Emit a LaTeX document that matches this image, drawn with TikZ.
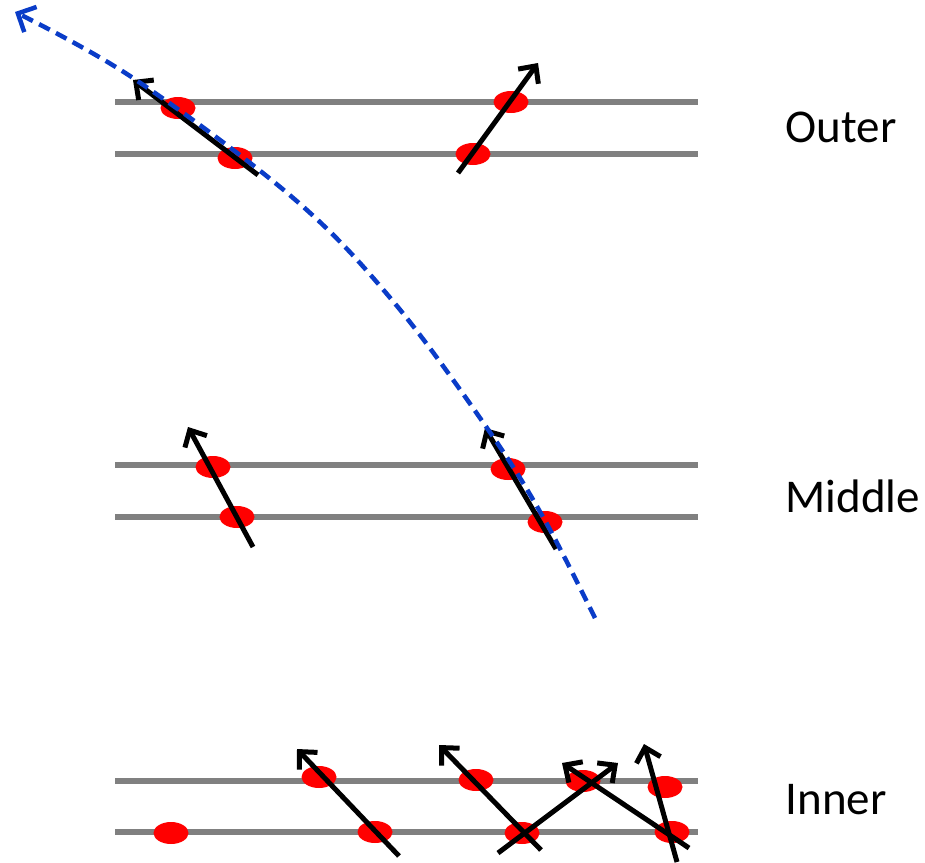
\documentclass[tikz,border=0pt]{standalone}
\usepackage{fontspec}
\setmainfont{Carlito}
\usetikzlibrary{shapes.geometric,arrows.meta}
\definecolor{trkGray}{HTML}{808080}
\definecolor{hitRed}{HTML}{FF0000}
\definecolor{pathBlue}{HTML}{0A3CC8}

\begin{document}
\begin{tikzpicture}[x=1pt,y=-1pt,
  layer/.style={trkGray,line width=6pt},
  hit/.style={ellipse,fill=hitRed,minimum width=35pt,minimum height=22pt,inner sep=0pt},
  trk/.style={line width=5pt,-{Straight Barb[length=13pt,width=25pt,line width=5pt]}},
  lbl/.style={anchor=west,font=\fontsize{47}{54}\selectfont}]
  \useasboundingbox (0,0) rectangle (925,862);
  % detector layers
  \foreach \y in {102,154,465,517,781,832} {
    \draw[layer] (115,\y) -- (698,\y);
  }
  \node[lbl] (outer) at (782,127) {Outer};
  \node[lbl] (middle) at (782,496) {Middle};
  \node[lbl] (inner) at (782,800) {Inner};
  % hits
  \node[hit] (o1) at (178,108) {};
  \node[hit] (o2) at (235,158) {};
  \node[hit] (o3) at (511,102) {};
  \node[hit] (o4) at (473,154) {};
  \node[hit] (m1) at (213,467) {};
  \node[hit] (m2) at (237,517) {};
  \node[hit] (m3) at (508,469) {};
  \node[hit] (m4) at (545,522) {};
  \node[hit] (i1) at (319,777) {};
  \node[hit] (i2) at (375,832) {};
  \node[hit] (i3) at (476,780) {};
  \node[hit] (i4) at (522,833) {};
  \node[hit] (i5) at (583,781) {};
  \node[hit] (i6) at (665,787) {};
  \node[hit] (i7) at (672,832) {};
  \node[hit] (i8) at (171,833) {};
  % track segments
  \coordinate (oa0) at (258,175); \coordinate (oa1) at (133,80);
  \coordinate (ob0) at (458,173); \coordinate (ob1) at (538,63);
  \coordinate (ma0) at (253,547); \coordinate (ma1) at (188,427);
  \coordinate (mb0) at (556,549); \coordinate (mb1) at (485,428);
  \coordinate (ia0) at (399,856); \coordinate (ia1) at (297,749);
  \coordinate (ib0) at (541,850); \coordinate (ib1) at (439,745);
  \coordinate (ic0) at (498,853); \coordinate (ic1) at (618,763);
  \coordinate (id0) at (689,848); \coordinate (id1) at (562,763);
  \coordinate (ie0) at (677,862); \coordinate (ie1) at (644,744);
  \foreach \t in {oa,ob,ma,mb,ia,ib,ic,id,ie} {
    \draw[trk] (\t0) -- (\t1);
  }
  % reconstructed trajectory
  \draw[pathBlue,line width=4.5pt,dash pattern=on 12pt off 7pt,
    -{Straight Barb[length=14pt,width=28pt,line width=4.5pt]}]
    plot[smooth,tension=0.6] coordinates {(595,618) (543,517) (487,428) (392,300) (292,197) (133,78) (15,12)};
\end{tikzpicture}
\end{document}
